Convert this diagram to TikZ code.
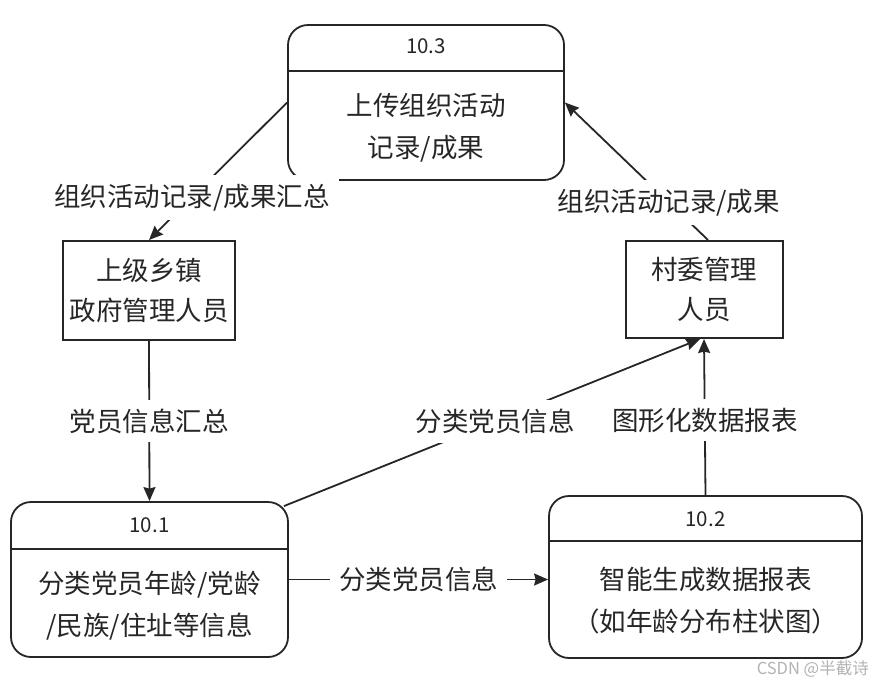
\documentclass[tikz,border=0pt]{standalone}
\usepackage{fontspec}
\setmainfont{Noto Sans CJK SC}
\usetikzlibrary{arrows.meta,calc}
\begin{document}
\begin{tikzpicture}[x=1pt,y=-1pt,
  proc/.style={draw=black!85, rounded corners=20pt, line width=1.8pt, inner sep=0pt},
  ent/.style={draw=black!85, line width=2pt, inner sep=0pt},
  txt/.style={font=\fontsize{26.5}{42}\selectfont, align=center, text=black!85, inner sep=0pt},
  idtxt/.style={font=\fontsize{20.5}{22}\selectfont, text=black!85, inner sep=0pt},
  lbl/.style={font=\fontsize{26.5}{30}\selectfont, fill=white, inner sep=9pt, text=black!85},
  flow/.style={draw=black!85, line width=1.8pt, -{Stealth[length=14pt,width=12pt,inset=1.5pt]}},
]
\useasboundingbox (0,0) rectangle (877,686);

% processes
\node[proc, minimum width=276pt, minimum height=155pt] (p103) at (426,102.5) {};
\draw[line width=1.8pt, draw=black!85] ([yshift=-47pt]p103.north west) -- ([yshift=-47pt]p103.north east);
\node[idtxt] (t103) at ([yshift=-22pt]p103.north) {10.3};
\node[txt] (b103) at ([yshift=-103.5pt]p103.north) {上传组织活动\\记录/成果};

\node[proc, minimum width=277pt, minimum height=155pt] (p101) at (149.5,579.5) {};
\draw[line width=1.8pt, draw=black!85] ([yshift=-48pt]p101.north west) -- ([yshift=-48pt]p101.north east);
\node[idtxt] (t101) at ([yshift=-24pt]p101.north) {10.1};
\node[txt] (b101) at ([yshift=-104.5pt]p101.north) {分类党员年龄/党龄\\/民族/住址等信息};

\node[proc, minimum width=313pt, minimum height=162pt] (p102) at (705.5,577) {};
\draw[line width=1.8pt, draw=black!85] ([yshift=-46pt]p102.north west) -- ([yshift=-46pt]p102.north east);
\node[idtxt] (t102) at ([yshift=-24pt]p102.north) {10.2};
\node[txt] (b102) at ([yshift=-105pt]p102.north) {智能生成数据报表\\（如年龄分布柱状图）};

% external entities
\node[ent, minimum width=172pt, minimum height=99pt] (gov) at (149,290.5) {};
\node[txt, font=\fontsize{26.5}{40}\selectfont] (govt) at (gov.center) {上级乡镇\\政府管理人员};
\node[ent, minimum width=157pt, minimum height=97pt] (vil) at (704,289.5) {};
\node[txt, font=\fontsize{26.5}{40}\selectfont] (vilt) at (vil.center) {村委管理\\人员};

% flows
\draw[flow] (p103.west) -- node[lbl, pos=0.69] {组织活动记录/成果汇总} (gov.north);
\draw[flow] ([xshift=4pt]vil.north) -- node[lbl, pos=0.274] {组织活动记录/成果} (p103.east);
\draw[flow] (gov.south) -- node[lbl, pos=0.5] {党员信息汇总} (p101.north);
\draw[flow] ([xshift=-5pt,yshift=-5pt]p101.north east) -- node[lbl, pos=0.508] {分类党员信息} ([xshift=-4pt]vil.south);
\draw[flow] (p102.north) -- node[lbl, pos=0.48] {图形化数据报表} (vil.south);
\draw[flow] (p101.east) -- node[lbl, pos=0.5] {分类党员信息} (p101.east -| p102.west);

% watermark
\node[font=\fontsize{16.5}{18}\selectfont, text=black!30, anchor=east, inner sep=0pt] (wm) at (869,669) {CSDN @半截诗};
\end{tikzpicture}
\end{document}
